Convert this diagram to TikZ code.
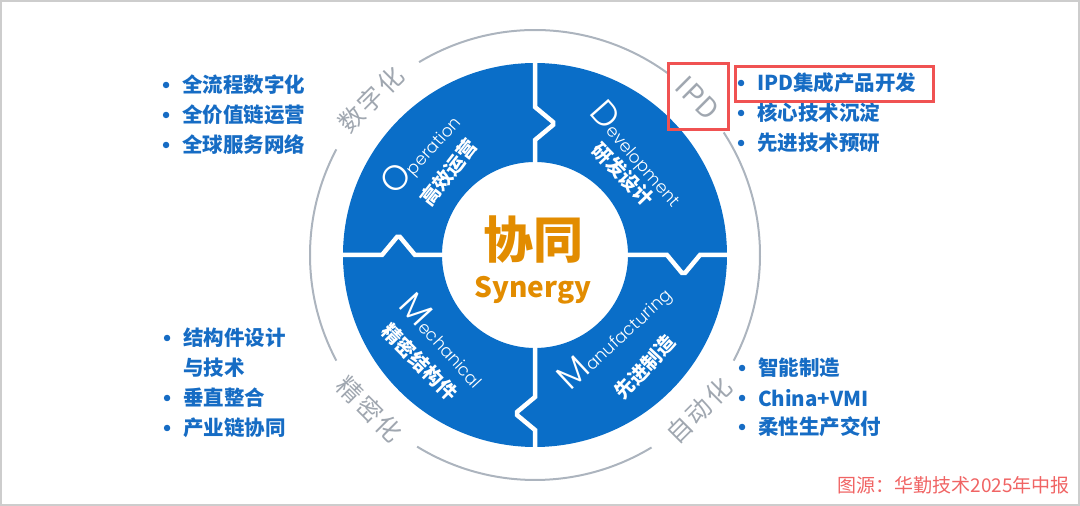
\documentclass[tikz,border=0pt]{standalone}
\usepackage{fontspec}
\usepackage{tikz}
\usetikzlibrary{positioning}
\setmainfont{Noto Sans CJK SC}
\IfFontExistsTF{Poppins Light}{\newfontfamily\engfont{Poppins Light}}{\newfontfamily\engfont{Noto Sans CJK SC}}
\definecolor{ringblue}{RGB}{10,110,200}
\definecolor{listblue}{RGB}{22,108,196}
\definecolor{labgray}{RGB}{160,167,176}
\definecolor{arcgray}{RGB}{172,180,190}
\definecolor{synorange}{RGB}{226,140,0}
\definecolor{boxred}{RGB}{240,82,82}
\definecolor{srcred}{RGB}{240,100,100}
\newcommand{\dropcap}[1]{{\fontsize{35}{35}\selectfont #1}}

\begin{document}
\begin{tikzpicture}[
    x=1pt, y=1pt,
    item/.style={anchor=west, inner sep=0pt, text=listblue, font=\fontsize{20.5}{24}\selectfont\bfseries, label={[dot, label distance=12.5pt]left:{}}},
    itemcont/.style={anchor=west, inner sep=0pt, text=listblue, font=\fontsize{20.5}{24}\selectfont\bfseries},
    dot/.style={circle, fill=listblue, inner sep=0pt, minimum size=6.5pt},
    gapline/.style={draw=white, line width=4.5pt},
    arcline/.style={draw=arcgray, line width=2pt},
    ringlab/.style={text=labgray, inner sep=0pt, font=\fontsize{25}{25}\selectfont},
    engl/.style={text=white, inner sep=0pt, font=\engfont\fontsize{17}{17}\selectfont},
    cnq/.style={text=white, inner sep=0pt, font=\fontsize{19.5}{19.5}\selectfont\bfseries},
    redbox/.style={draw=boxred, line width=3pt, inner sep=0pt}
]
\useasboundingbox (0,0) rectangle (1080,506);
\draw[draw={rgb,255:red,205;green,205;blue,205}, line width=2pt] (1,1) rectangle (1079,505);

\coordinate (c) at (535,251);
\fill[ringblue, even odd rule] (c) circle (192) (c) circle (93);
\foreach \ang/\a in {90/115, 0/132, -90/142, 180/120}
  \draw[gapline, shift={(c)}, rotate=\ang] (88,0) -- (\a,0) -- ++(15,-18) -- ++(3,0) -- ++(15,18) -- (197,0);
\foreach \s/\e in {54/121, 152/208, 238.4/301.2, -28/33}
  \draw[arcline] ([shift={(\s:225)}]c) arc (\s:\e:225);

\node[ringlab, rotate=45] (digi) at ([shift={(136.5:226)}]c) {数\hspace{3pt}字\hspace{3pt}化};
\node[ringlab, font=\fontsize{28}{28}\selectfont, rotate=-45] (ipd) at ([shift={(44:226)}]c) {I\hspace{1.5pt}P\hspace{1.5pt}D};
\node[ringlab, rotate=45] (auto) at ([shift={(-43.5:226)}]c) {自\hspace{3pt}动\hspace{3pt}化};
\node[ringlab, rotate=-45] (prec) at ([shift={(-137:226)}]c) {精\hspace{3pt}密\hspace{3pt}化};
\node[redbox, minimum width=60, minimum height=66] (ipdbox) at (698,409) {};

\node[text=synorange, inner sep=0pt, font=\fontsize{50}{50}\selectfont\bfseries] (xt) at (533,266) {协同};
\node[text=synorange, inner sep=0pt, font=\fontsize{28}{28}\selectfont\bfseries, below=12pt of xt] (syn) {Synergy};

\node[engl, rotate=48] (op) at (421,353) {\dropcap{O}peration};
\node[cnq, rotate=52] (opcn) at (449,333.5) {高效运营};
\node[engl, rotate=-48.5] (dev) at (638,352) {\dropcap{D}evelopment};
\node[cnq, rotate=-46] (devcn) at (623,331.5) {研发设计};
\node[engl, rotate=-47.5] (mech) at (445,166) {\dropcap{M}echanical};
\node[cnq, rotate=-45] (mechcn) at (420,144) {精密结构件};
\node[engl, rotate=43] (manu) at (615,169) {\dropcap{M}anufacturing};
\node[cnq, rotate=47] (manucn) at (645,139) {先进制造};

\node[item] (o1) at (182,421) {全流程数字化};
\node[item] (o2) at (182,391) {全价值链运营};
\node[item] (o3) at (182,361) {全球服务网络};
\node[item] (d1) at (757,423) {IPD集成产品开发};
\node[item] (d2) at (757,393) {核心技术沉淀};
\node[item] (d3) at (757,363) {先进技术预研};
\node[redbox, minimum width=198, minimum height=35] (d1box) at (834,421.5) {};
\node[item] (m1) at (183,168) {结构件设计};
\node[itemcont] (m1b) at (183,138) {与技术};
\node[item] (m2) at (183,108) {垂直整合};
\node[item] (m3) at (183,78) {产业链协同};
\node[item] (f1) at (758,138) {智能制造};
\node[item] (f2) at (758,108) {China+VMI};
\node[item] (f3) at (758,79) {柔性生产交付};

\node[anchor=east, text=srcred, inner sep=0pt, font=\fontsize{19}{19}\selectfont] (src) at (1070,21) {图源：华勤技术2025年中报};
\end{tikzpicture}
\end{document}
